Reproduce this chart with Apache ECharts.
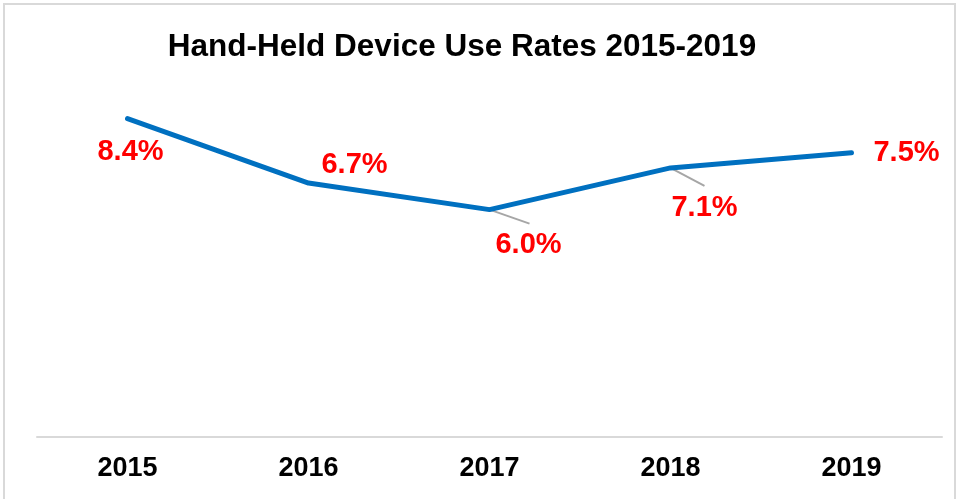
<!DOCTYPE html>
<html>
<head>
<meta charset="utf-8">
<script src="https://cdn.jsdelivr.net/npm/echarts@6/dist/echarts.min.js"></script>
<style>
  html, body { margin: 0; padding: 0; background: #fff; }
  #chart { width: 959px; height: 499px; }
</style>
</head>
<body>
<div id="chart"></div>
<script>
// data
const years = ['2015', '2016', '2017', '2018', '2019']
const useRates = [8.4, 6.7, 6.0, 7.1, 7.5]

// where each value label sits, relative to its point
const labelShift = [[3, 33], [46, -18], [39, 35], [34, 40], [55, 0]]
// leader lines: end offset from the point, null = no leader
const leaderEnd = [null, null, [40, 14], [34, 18], null]

const chart = echarts.init(document.getElementById('chart'))

chart.setOption({
  animation: false,
  title: {
    text: 'Hand-Held Device Use Rates 2015-2019',
    left: 457,
    textAlign: 'center',
    top: 26,
    textStyle: {
      fontFamily: 'Liberation Sans, Arial',
      fontWeight: 'bold',
      fontSize: 31.5,
      color: '#000'
    }
  },
  grid: { left: 37, right: 17, top: 58, bottom: 62 },
  xAxis: {
    type: 'category',
    data: years,
    boundaryGap: true,
    axisLine: { lineStyle: { color: '#d9d9d9', width: 2 } },
    axisTick: { show: false },
    axisLabel: {
      margin: 18,
      color: '#000',
      fontFamily: 'Liberation Sans, Arial',
      fontWeight: 'bold',
      fontSize: 27
    }
  },
  yAxis: {
    type: 'value',
    min: 0,
    max: 10,
    show: false
  },
  series: [{
    type: 'line',
    data: useRates,
    symbol: 'circle',
    symbolSize: 2,
    z: 3,
    itemStyle: { color: '#0070C0' },
    lineStyle: { color: '#0070C0', width: 5, cap: 'round', join: 'round' },
    label: {
      show: true,
      position: 'inside',
      formatter: p => p.value.toFixed(1) + '%',
      color: '#ff0000',
      fontFamily: 'Liberation Sans, Arial',
      fontWeight: 'bold',
      fontSize: 29
    },
    labelLayout: p => ({ dx: labelShift[p.dataIndex][0], dy: labelShift[p.dataIndex][1] })
  }]
})

// frame + leader lines, placed through the chart's own scales
const extras = [{
  type: 'rect',
  silent: true,
  shape: { x: 4, y: 4, width: 951, height: 530 },
  style: { fill: 'none', stroke: '#d9d9d9', lineWidth: 2 }
}]
useRates.forEach((v, i) => {
  if (!leaderEnd[i]) return
  const p = chart.convertToPixel({ seriesIndex: 0 }, [i, v])
  extras.push({
    type: 'line',
    silent: true,
    z: 1,
    shape: { x1: p[0], y1: p[1], x2: p[0] + leaderEnd[i][0], y2: p[1] + leaderEnd[i][1] },
    style: { stroke: '#a6a6a6', lineWidth: 2 }
  })
})
chart.setOption({ graphic: extras })
</script>
</body>
</html>
